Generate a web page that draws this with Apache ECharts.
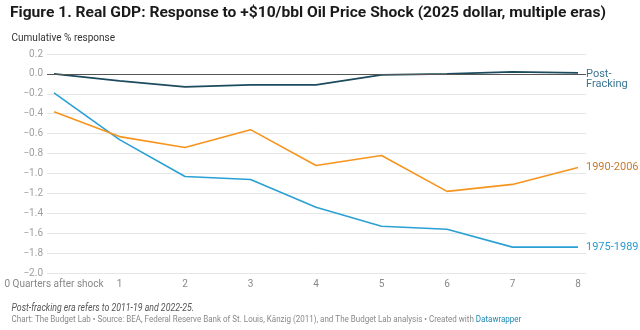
<!DOCTYPE html>
<html>
<head>
<meta charset="utf-8">
<script src="https://cdn.jsdelivr.net/npm/echarts@6/dist/echarts.min.js"></script>
<style>
html,body{margin:0;padding:0;background:#fff;}
#chart{width:640px;height:330px;}
</style>
</head>
<body>
<div id="chart"></div>
<script>
const quarters = [0, 1, 2, 3, 4, 5, 6, 7, 8];
const postFracking = [0.0, -0.07, -0.13, -0.11, -0.11, -0.01, 0.0, 0.02, 0.01];
const era1990_2006 = [-0.38, -0.63, -0.74, -0.56, -0.92, -0.82, -1.18, -1.11, -0.94];
const era1975_1989 = [-0.19, -0.66, -1.03, -1.06, -1.34, -1.53, -1.56, -1.74, -1.74];
const seriesNames = ['Post-\nFracking', '1990-2006', '1975-1989'];

const titleText = 'Figure 1. Real GDP: Response to +$10/bbl Oil Price Shock (2025 dollar, multiple eras)';
const subtitleText = 'Cumulative % response';
const noteText = 'Post-fracking era refers to 2011-19 and 2022-25.';
const sourceText = 'Chart: The Budget Lab • Source: BEA, Federal Reserve Bank of St. Louis, Känzig (2011), and The Budget Lab analysis • Created with ';

const chart = echarts.init(document.getElementById('chart'), null, {renderer: 'canvas'});
const pair = arr => quarters.map((q, i) => [q, arr[i]]);
const fmtY = v => (Math.abs(v) < 1e-9 ? '0.0' : v.toFixed(1).replace('-', '\u2212'));

function lineSeries(name, data, color, labelColor, extra, labelExtra) {
  return Object.assign({
    type: 'line',
    name: name,
    data: pair(data),
    symbol: 'none',
    lineStyle: {color: color, width: 1.6},
    itemStyle: {color: color},
    silent: true,
    animation: false,
    endLabel: Object.assign({
      show: true,
      formatter: name,
      color: labelColor,
      fontFamily: 'Roboto',
      fontSize: 11,
      distance: 8,
      lineHeight: 11
    }, labelExtra || {})
  }, extra || {});
}

chart.setOption({
  animation: false,
  backgroundColor: '#ffffff',
  grid: {left: 47, right: 54, top: 54, bottom: 57, containLabel: false},
  xAxis: {
    type: 'value',
    min: -0.107,
    max: 8.122,
    axisLine: {show: false},
    axisTick: {show: false},
    splitLine: {show: false},
    axisLabel: {
      customValues: quarters,
      color: '#888',
      fontFamily: 'Roboto',
      fontSize: 10,
      margin: 6,
      formatter: v => (v === 0 ? '0 Quarters after shock' : String(v))
    }
  },
  yAxis: {
    type: 'value',
    min: -2.0,
    max: 0.2,
    interval: 0.2,
    axisLine: {show: false},
    axisTick: {show: false},
    splitLine: {show: true, lineStyle: {color: '#e6e6e6', width: 1}},
    axisLabel: {
      color: '#a0a0a0',
      fontFamily: 'Roboto',
      fontSize: 10,
      margin: 4,
      formatter: fmtY
    }
  },
  series: [
    lineSeries(seriesNames[2], era1975_1989, '#2aa0d4', '#2a9bd0'),
    lineSeries(seriesNames[1], era1990_2006, '#f7941d', '#c47b2e'),
    lineSeries(seriesNames[0], postFracking, '#1c4b5e', '#3a7690', {
      markLine: {
        silent: true,
        symbol: 'none',
        label: {show: false},
        lineStyle: {color: '#555', width: 1.2, type: 'solid'},
        data: [{yAxis: 0}]
      },
      z: 3
    }, {lineHeight: 10, offset: [0, 6]})
  ],
  graphic: [
    {type: 'text', x: 10, y: 13, scaleX: 1.04, style: {text: titleText, font: 'bold 15px Roboto', fill: '#1a1a1a', verticalAlign: 'middle'}},
    {type: 'text', x: 11.5, y: 38.5, scaleX: 0.955, style: {text: subtitleText, font: '10.5px Roboto', fill: '#333', verticalAlign: 'middle'}},
    {type: 'text', x: 11.5, y: 308, scaleX: 0.875, style: {text: noteText, font: 'italic 10px Roboto', fill: '#555', verticalAlign: 'middle'}},
    {type: 'text', x: 11.5, y: 319.5, scaleX: 0.89, style: {
      text: '{a|' + sourceText + '}{b|Datawrapper}',
      verticalAlign: 'middle',
      rich: {
        a: {font: '9px Roboto', fill: '#888', color: '#888'},
        b: {font: '9px Roboto', fill: '#1d87b5', color: '#1d87b5'}
      }
    }}
  ]
});
</script>
</body>
</html>
